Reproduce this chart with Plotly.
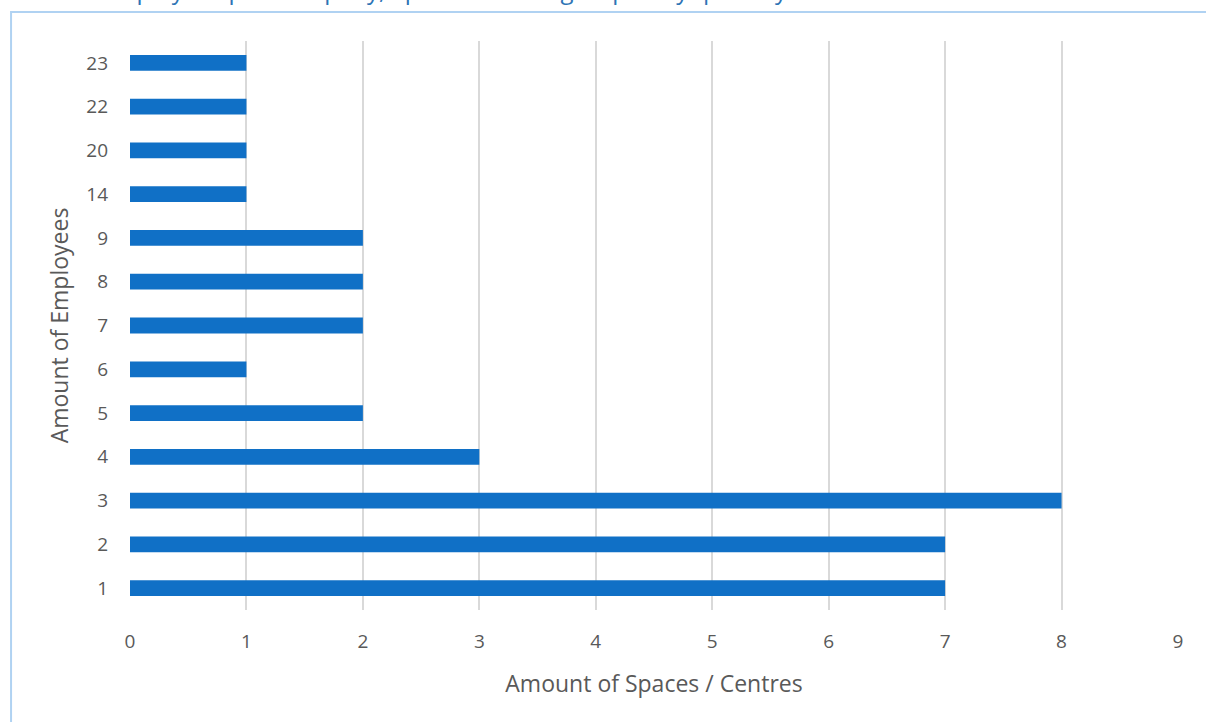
import plotly.graph_objects as go

employees = ["1", "2", "3", "4", "5", "6", "7", "8", "9", "14", "20", "22", "23"]
spaces = [7, 7, 8, 3, 2, 1, 2, 2, 2, 1, 1, 1, 1]
x_ticks = list(range(0, 10))

FONT = "'Open Sans', sans-serif"
TICK_COLOR = "#595959"

fig = go.Figure(
    go.Bar(
        x=spaces,
        y=employees,
        orientation="h",
        marker=dict(color="#1070C6", line=dict(width=0)),
    )
)

fig.update_layout(
    width=1206,
    height=722,
    margin=dict(l=130, r=28, t=41, b=112),
    paper_bgcolor="white",
    plot_bgcolor="white",
    bargap=0.64,
    showlegend=False,
    font=dict(family=FONT, color=TICK_COLOR, size=19),
)

fig.update_xaxes(
    range=[0, 9],
    tickvals=x_ticks,
    showgrid=True,
    gridcolor="#D9D9D9",
    gridwidth=1.5,
    zeroline=False,
    showline=False,
    ticks="",
    tickfont=dict(size=19, color=TICK_COLOR),
    ticklabelstandoff=18,
    title=dict(text="Amount of Spaces / Centres", font=dict(size=23, color=TICK_COLOR), standoff=22),
)

fig.update_yaxes(
    type="category",
    categoryorder="array",
    categoryarray=employees,
    showgrid=False,
    zeroline=False,
    showline=False,
    ticks="",
    tickfont=dict(size=19, color=TICK_COLOR),
    ticklabelstandoff=21,
    title=dict(text="Amount of Employees", font=dict(size=23, color=TICK_COLOR), standoff=11),
)

# outer chart frame (partially cropped, like the reference)
fig.add_shape(
    type="rect", xref="paper", yref="paper",
    x0=-0.1135, x1=1.3, y0=-0.4, y1=1.051,
    line=dict(color="#B0D2F2", width=2), fillcolor="rgba(0,0,0,0)", layer="below",
)

# cropped heading at the very top
fig.add_annotation(
    xref="paper", yref="paper", x=-0.03, y=1.058,
    xanchor="left", yanchor="bottom",
    text="Employees per Company, Space / Centre grouped by quantity",
    showarrow=False,
    font=dict(size=24, color="#2E74B5", family=FONT),
)

fig.write_html(
    "out.html",
    config={"displayModeBar": False},
    post_script="document.body.style.margin='0';document.body.style.padding='0';",
)
